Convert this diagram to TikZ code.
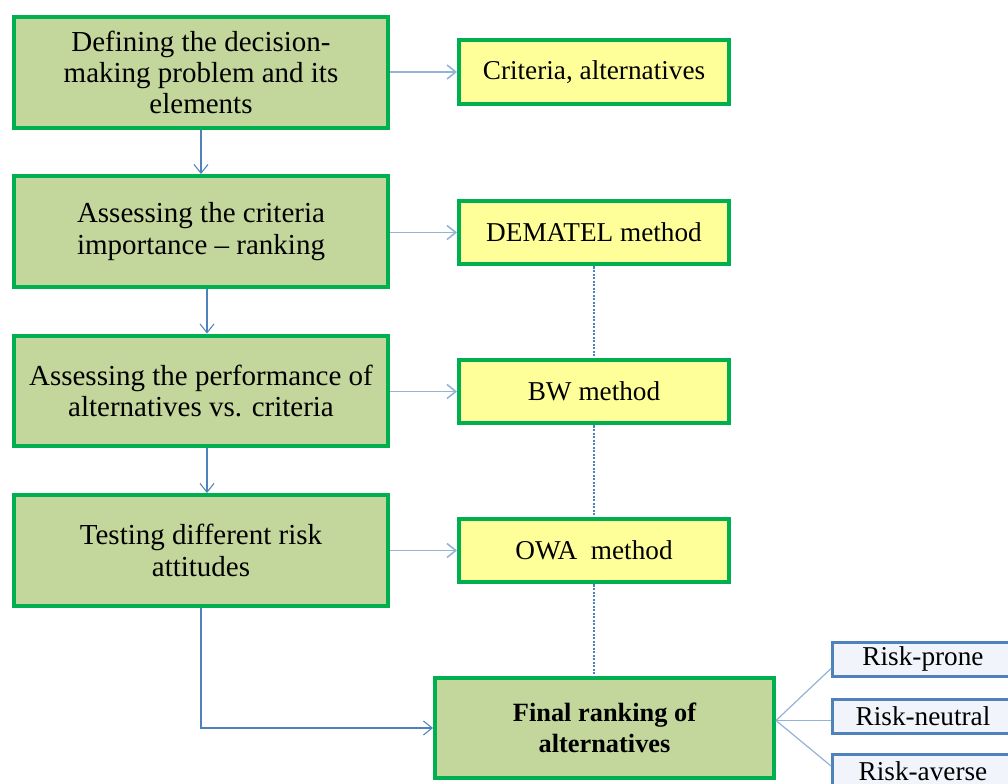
\documentclass[tikz,border=0pt]{standalone}
\usepackage{fontspec}
\setmainfont{Liberation Serif}
\usepackage{xcolor}
\usepackage{tikz}
\usetikzlibrary{positioning,calc,arrows.meta}

\definecolor{boxgreen}{HTML}{C3D69B}
\definecolor{edgegreen}{HTML}{00B050}
\definecolor{boxyellow}{HTML}{FFFF99}
\definecolor{linkblue}{HTML}{4F81BD}
\definecolor{lightblue}{HTML}{95B3D7}
\definecolor{riskfill}{HTML}{F1F4FA}

\tikzset{
  stagebox/.style={draw=edgegreen, line width=0.08cm, fill=boxgreen, align=center,
    minimum width=7.48cm, minimum height=2.22cm, inner sep=2pt,
    font=\fontsize{16.5}{17.8}\selectfont},
  methodbox/.style={draw=edgegreen, line width=0.08cm, fill=boxyellow, align=center,
    minimum width=5.4cm, minimum height=1.28cm, font=\fontsize{15.5}{17.8}\selectfont},
  riskbox/.style={draw=linkblue, line width=0.06cm, fill=riskfill, align=center,
    minimum width=3.62cm, minimum height=0.68cm, inner sep=1pt,
    font=\fontsize{15.5}{17.8}\selectfont},
  arr/.style={linkblue, line width=0.6pt, -{Straight Barb[length=5pt,width=8pt]}},
  lightarr/.style={lightblue, line width=0.9pt, -{Straight Barb[length=5pt,width=8pt]}},
  dotline/.style={linkblue, line width=0.6pt, dash pattern=on 1.2pt off 0.8pt},
  fanline/.style={lightblue, line width=0.7pt}
}

\begin{document}
\begin{tikzpicture}[x=0.02cm, y=-0.02cm]
    \useasboundingbox (0,0) rectangle (1008,784);

    % Steps
    \node[stagebox] (define) at (201,72.5) {Defining the decision-\\making problem and its\\elements};
    \node[stagebox] (weigh) at (201,231.5) {Assessing the criteria\\importance -- ranking};
    \node[stagebox] (perform) at (201,391) {Assessing the performance of\\alternatives vs. criteria};
    \node[stagebox] (attitude) at (201,550.5) {Testing different risk\\attitudes};

    % Methods
    \node[methodbox] (crit) at (594,72) {Criteria, alternatives};
    \node[methodbox] (dematel) at (594,232.5) {DEMATEL method};
    \node[methodbox] (bw) at (594,391.5) {BW method};
    \node[methodbox] (owa) at (594,550.5) {OWA~ method};

    % Result
    \node[stagebox, minimum width=6.78cm, minimum height=2.0cm,
          font=\fontsize{15}{17.5}\selectfont\bfseries] (final) at (604.5,728) {Final ranking of\\alternatives};

    \node[riskbox] (prone) at (923,659) {Risk-prone};
    \node[riskbox] (neutral) at (923,716.5) {Risk-neutral};
    \node[riskbox] (averse) at (923,771) {Risk-averse};

    % Connectors
    \draw[arr] (define.south) -- (weigh.north);
    \draw[arr] ([xshift=0.12cm]weigh.south) -- ([xshift=0.12cm]perform.north);
    \draw[arr] ([xshift=0.12cm]perform.south) -- ([xshift=0.12cm]attitude.north);
    \draw[arr] (attitude.south) |- (final.west);

    \draw[lightarr] (define.east |- crit.west) -- (crit.west);
    \draw[lightarr] (weigh.east |- dematel.west) -- (dematel.west);
    \draw[lightarr] (perform.east |- bw.west) -- (bw.west);
    \draw[lightarr] (attitude.east |- owa.west) -- (owa.west);

    \draw[dotline] (dematel.south) -- (bw.north);
    \draw[dotline] (bw.south) -- (owa.north);
    \draw[dotline] (owa.south) -- (owa.south |- final.north);

    \coordinate (fan) at ($(final.east |- neutral.west)+(0,4)$);
    \draw[fanline] (fan) -- ([yshift=0.18cm]prone.south west);
    \draw[fanline] (fan) -- (neutral.west |- fan);
    \draw[fanline] (fan) -- ([yshift=0.1cm]averse.west);
\end{tikzpicture}
\end{document}
